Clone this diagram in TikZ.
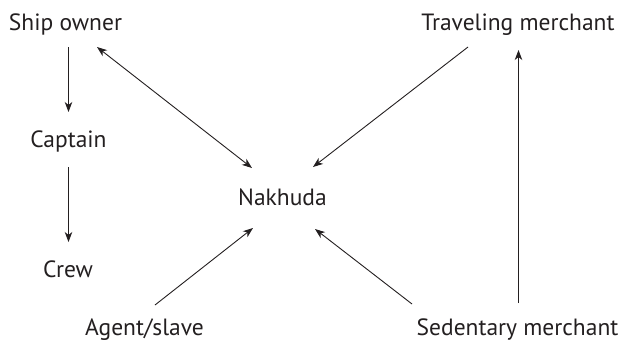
\documentclass[tikz,border=0pt]{standalone}
\usepackage{fontspec}
\setmainfont{PT Sans}
\usetikzlibrary{arrows.meta,calc}
\definecolor{ink}{HTML}{231F20}
\tikzset{
  role/.style={anchor=base, inner sep=0pt, text=ink,
    font=\fontsize{23.5bp}{28bp}\selectfont},
  link/.style={draw=ink, line width=0.9bp,
    -{Stealth[length=10bp,width=7.5bp,inset=3bp]}},
  duallink/.style={link,
    {Stealth[length=10bp,width=7.5bp,inset=3bp]}-{Stealth[length=10bp,width=7.5bp,inset=3bp]}}
}
\begin{document}
\begin{tikzpicture}[x=1bp,y=-1bp]
  \useasboundingbox (0,0) rectangle (622,340);
  % roles
  \node[role] (so)   at (65.5,30)  {Ship owner};
  \node[role] (tm)   at (518,30)   {Traveling merchant};
  \node[role] (cap)  at (68.5,147) {Captain};
  \node[role] (nak)  at (282.5,205){Nakhuda};
  \node[role] (crew) at (68,277)   {Crew};
  \node[role] (ag)   at (144.5,335){Agent/slave};
  \node[role] (sm)   at (517.5,335){Sedentary merchant};
  % chain of command on board
  \draw[link] ($(so.base)+(3,17)$)    -- ($(cap.base)+(0,-35)$);
  \draw[link] ($(cap.base)+(0,20)$)   -- ($(crew.base)+(0.5,-35)$);
  % relations around the nakhuda
  \draw[duallink] ($(so.base)+(31.5,17)$) -- ($(nak.base)+(-30.5,-37)$);
  \draw[link] ($(tm.base)+(-50,17)$)    -- ($(nak.base)+(30.5,-38)$);
  \draw[link] ($(ag.base)+(10.5,-30)$)  -- ($(nak.base)+(-29.5,23)$);
  \draw[link] ($(sm.base)+(-105.5,-31)$) -- ($(nak.base)+(32.5,24)$);
  \draw[link] ($(sm.base)+(1,-32)$)     -- ($(tm.base)+(0.5,20)$);
\end{tikzpicture}
\end{document}
